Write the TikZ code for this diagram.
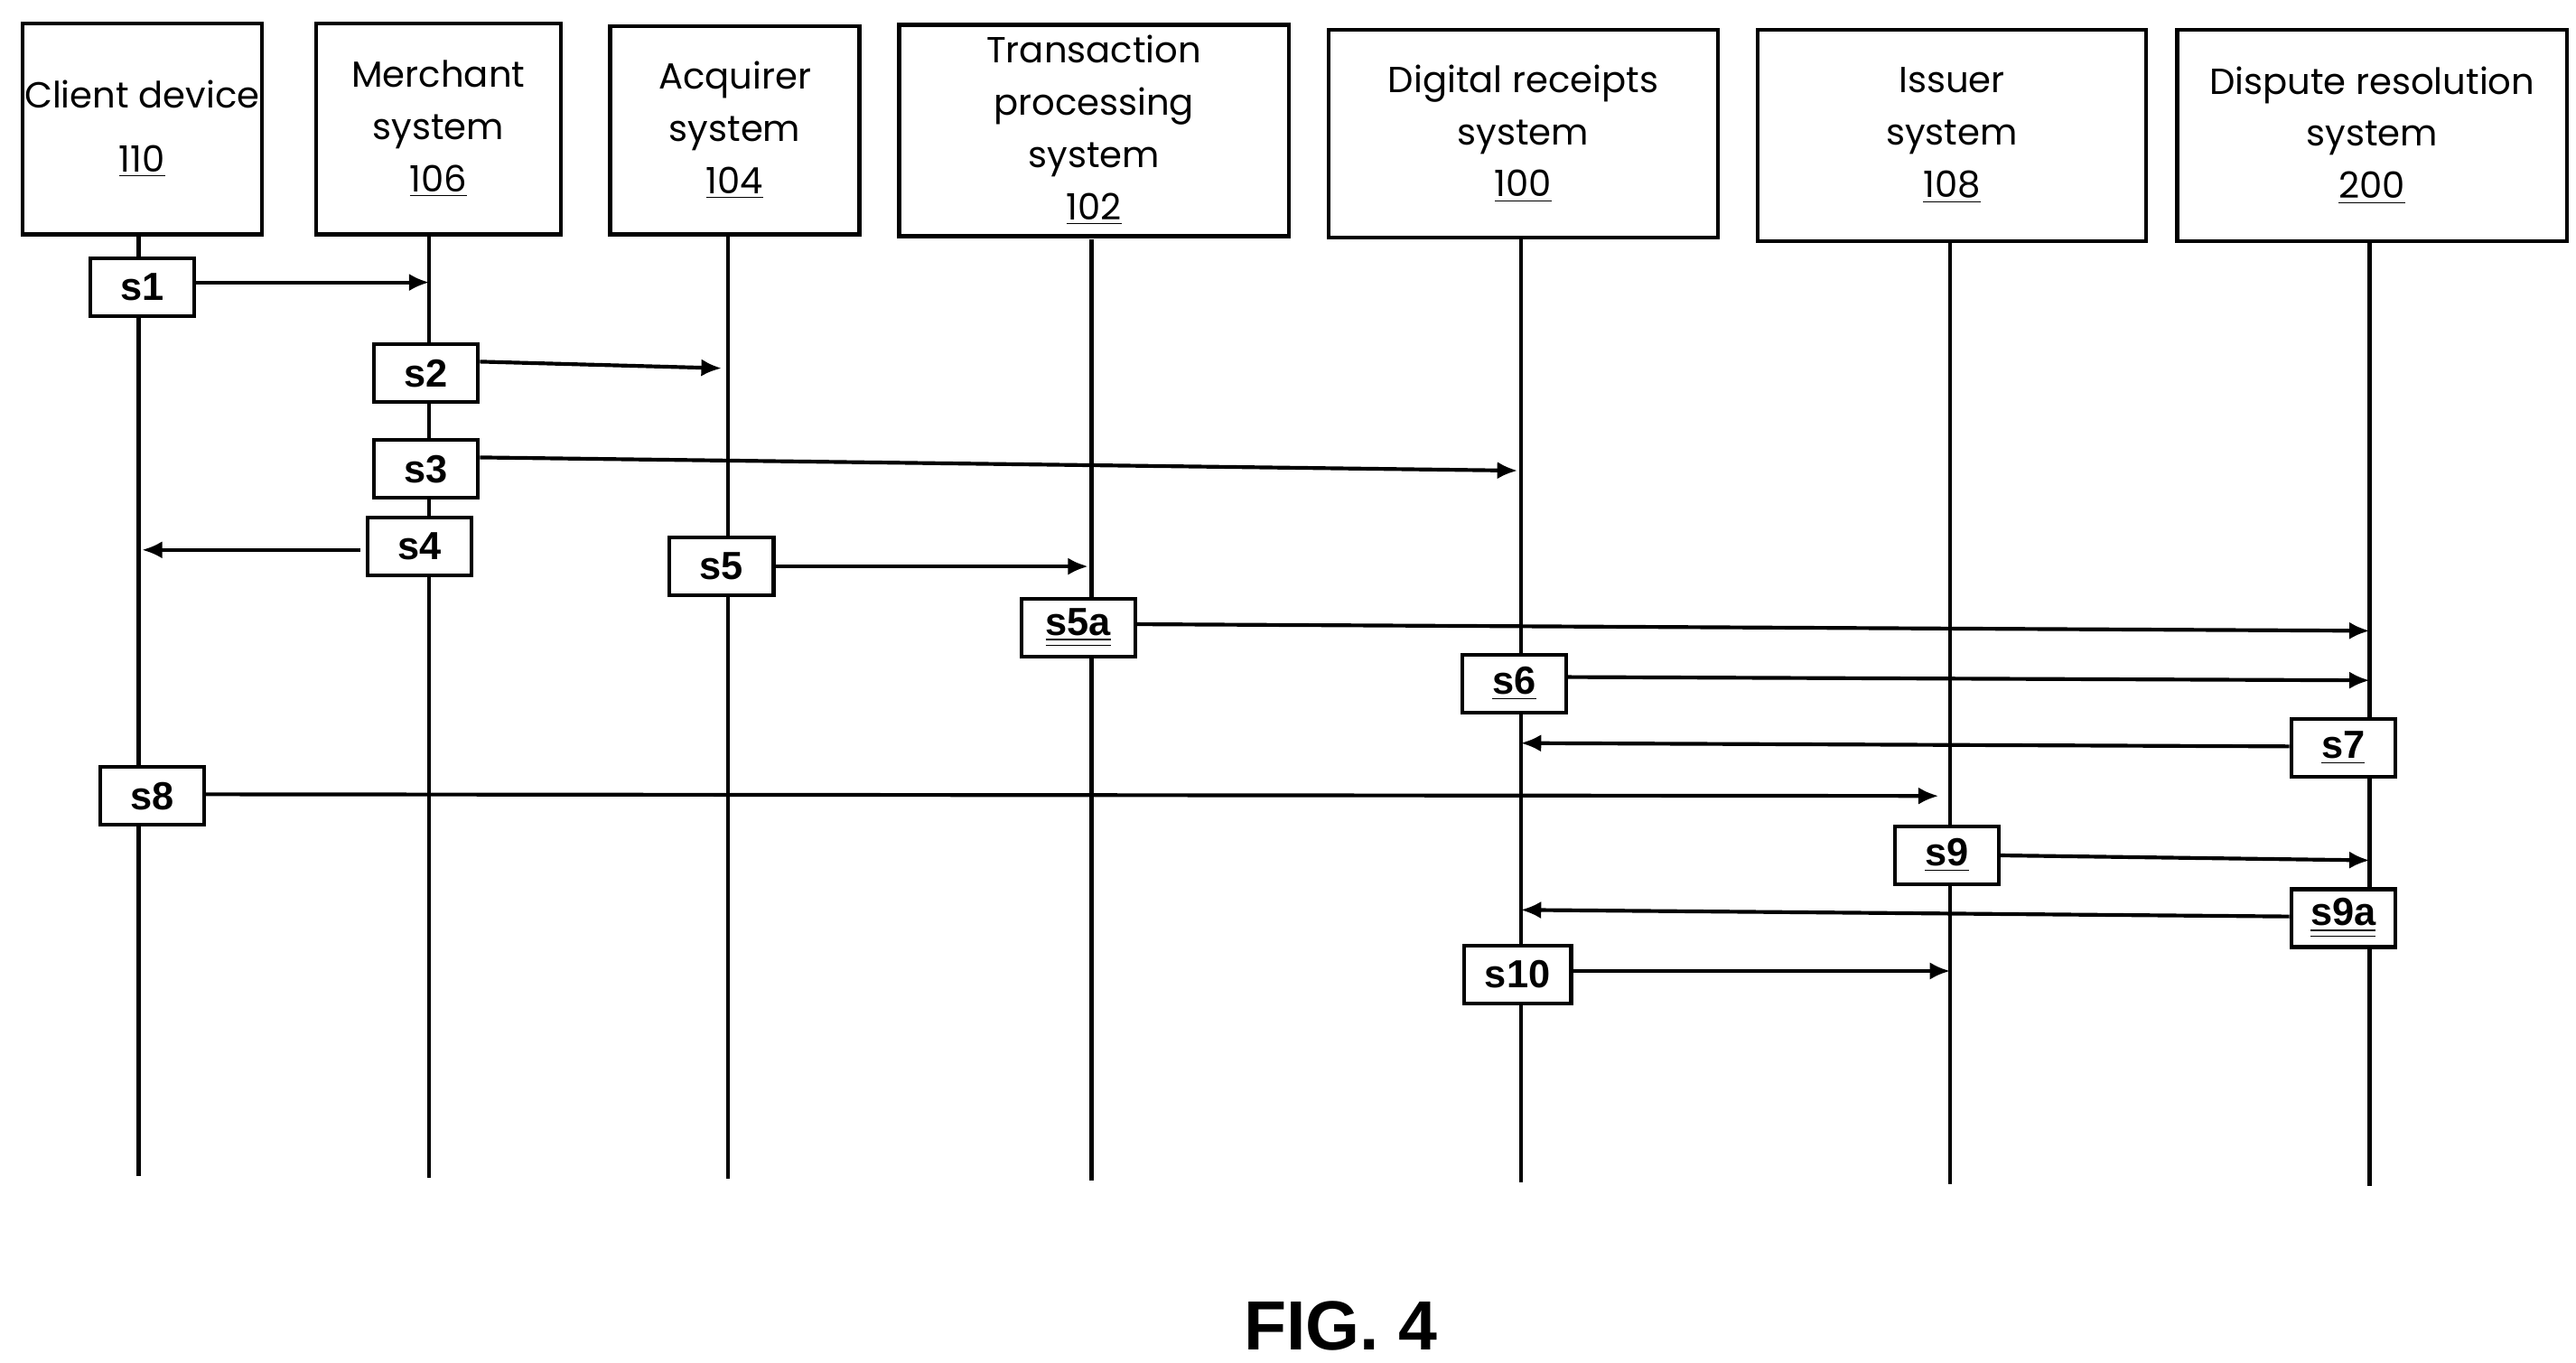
\documentclass[tikz,border=0pt]{standalone}
\usepackage{fontspec}
\usetikzlibrary{arrows.meta}
\setmainfont{Poppins}
\newfontfamily\arialf{Liberation Sans}
\begin{document}
\begin{tikzpicture}[x=0.02cm,y=-0.02cm,
  ent/.style={draw,line width=1.3pt,inner sep=0pt,align=center,font=\fontsize{12.5}{18}\selectfont},
  life/.style={line width=1.3pt},
  st/.style={draw,line width=1.3pt,minimum width=1.26cm,minimum height=0.7cm,inner sep=0pt,font=\arialf\bfseries\fontsize{13.5}{15}\selectfont},
  msg/.style={line width=1.3pt,-{Latex[length=7pt,width=6pt]}}]
\useasboundingbox (0,0) rectangle (1560,825);
\newcommand{\ul}[1]{\underline{#1}}
\newcommand{\dul}[1]{\underline{\underline{#1}}}
% entity boxes
\node[ent,minimum width=2.9cm,minimum height=2.56cm] (cd) at (86,78) {Client device\\[4pt] \ul{110}};
\node[ent,minimum width=2.96cm,minimum height=2.56cm] (ms) at (265.5,78) {Merchant\\system\\\ul{106}};
\node[ent,minimum width=3.02cm,minimum height=2.52cm] (aq) at (445,79) {Acquirer\\system\\\ul{104}};
\node[ent,minimum width=4.72cm,minimum height=2.56cm] (tp) at (662.5,79) {Transaction\\processing\\system\\\ul{102}};
\node[ent,minimum width=4.72cm,minimum height=2.52cm] (dr) at (922.5,81) {Digital receipts\\system\\\ul{100}};
\node[ent,minimum width=4.7cm,minimum height=2.56cm] (is) at (1182,82) {Issuer\\system\\\ul{108}};
\node[ent,minimum width=4.72cm,minimum height=2.56cm] (dp) at (1436.5,82) {Dispute resolution\\system\\\ul{200}};
% lifelines
\coordinate (e1) at (84,712); \coordinate (e2) at (260,713); \coordinate (e3) at (441,714);
\coordinate (e4) at (661,715); \coordinate (e5) at (921,716); \coordinate (e6) at (1181,717); \coordinate (e7) at (1435,718);
\draw[life] (84,143) -- (e1);
\draw[life] (260,143) -- (e2);
\draw[life] (441,143) -- (e3);
\draw[life] (661,145) -- (e4);
\draw[life] (921,145) -- (e5);
\draw[life] (1181,147) -- (e6);
\draw[life] (1435,147) -- (e7);
% step boxes
\node[st,fill=white] (s1) at (86,174) {s1};
\node[st,fill=white] (s2) at (258,226) {s2};
\node[st,fill=white] (s3) at (258,284) {s3};
\node[st,fill=white] (s4) at (254,331) {s4};
\node[st,fill=white] (s5) at (437,343) {s5};
\node[st,fill=white,minimum width=1.38cm] (s5a) at (653,380) {\dul{s5a}};
\node[st,fill=white] (s6) at (917,414) {\ul{s6}};
\node[st,fill=white] (s7) at (1419,453) {\ul{s7}};
\node[st,fill=white] (s8) at (92,482) {s8};
\node[st,fill=white] (s9) at (1179,518) {\ul{s9}};
\node[st,fill=white] (s9a) at (1419,556) {\dul{s9a}};
\node[st,fill=white,minimum width=1.3cm] (s10) at (919,590) {s10};
% targets
\coordinate (t1) at (260,171); \coordinate (t2) at (437,223); \coordinate (t3) at (919,285);
\coordinate (t4) at (86,333); \coordinate (t5) at (659,343); \coordinate (t5a) at (1435,382);
\coordinate (t6) at (1435,412); \coordinate (t7) at (921,450); \coordinate (t8) at (1174,482);
\coordinate (t9) at (1435,521); \coordinate (t9a) at (921,551); \coordinate (t10) at (1181,588);
\draw[msg] (s1.east |- 0,171) -- (t1);
\draw[msg] (s2.east |- 0,219) -- (t2);
\draw[msg] (s3.east |- 0,277) -- (t3);
\draw[msg] (218,333) -- (t4);
\draw[msg] (s5.east) -- (t5);
\draw[msg] (s5a.east |- 0,378) -- (t5a);
\draw[msg] (s6.east |- 0,410) -- (t6);
\draw[msg] (s7.west |- 0,452) -- (t7);
\draw[msg] (s8.east |- 0,481) -- (t8);
\draw[msg] (s9.east) -- (t9);
\draw[msg] (s9a.west |- 0,555) -- (t9a);
\draw[msg] (s10.east |- 0,588) -- (t10);
\node[font=\arialf\bfseries\fontsize{24}{28}\selectfont] (fig) at (812,803) {FIG. 4};
\end{tikzpicture}
\end{document}
